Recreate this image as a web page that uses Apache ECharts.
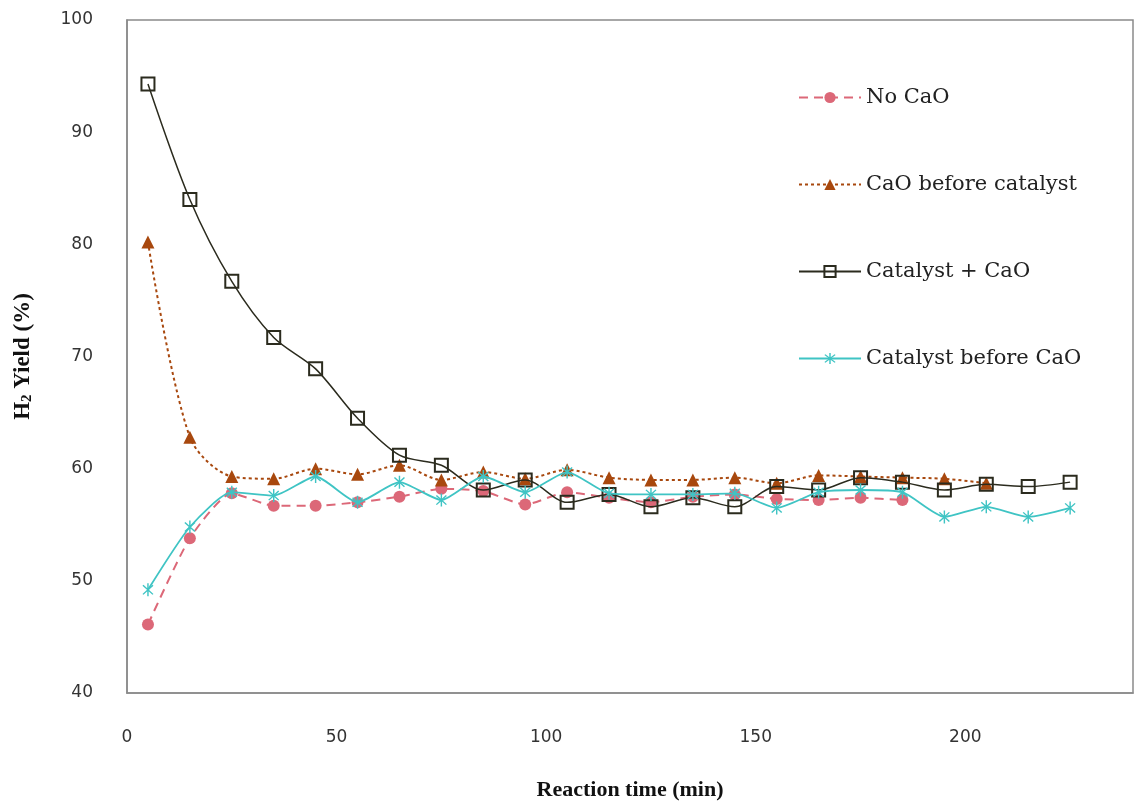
<!DOCTYPE html>
<html>
<head>
<meta charset="utf-8">
<script src="https://cdn.jsdelivr.net/npm/echarts@6/dist/echarts.min.js"></script>
<style>
html,body{margin:0;padding:0;background:#fff;}
#chart{width:1137px;height:807px;}
</style>
</head>
<body>
<div id="chart"></div>
<script>
// Reaction time (min)
const times = [5,15,25,35,45,55,65,75,85,95,105,115,125,135,145,155,165,175,185,195,205,215,225];
// H2 yield (%) per series
const noCaO = [46.1,53.8,57.8,56.7,56.7,57.0,57.5,58.2,58.0,56.8,57.9,57.4,57.0,57.5,57.7,57.3,57.2,57.4,57.2];
const caoBeforeCatalyst = [80.2,62.8,59.3,59.1,60.0,59.5,60.3,59.0,59.7,59.1,59.9,59.2,59.0,59.0,59.2,58.7,59.4,59.3,59.2,59.1,58.7];
const catalystPlusCaO = [94.3,84.0,76.7,71.7,68.9,64.5,61.2,60.3,58.1,59.0,57.0,57.7,56.6,57.4,56.6,58.4,58.1,59.2,58.8,58.1,58.6,58.4,58.8];
const catalystBeforeCaO = [49.2,54.8,57.9,57.6,59.3,57.0,58.8,57.2,59.3,57.9,59.7,57.8,57.7,57.7,57.8,56.5,57.9,58.1,57.9,55.7,56.6,55.7,56.5];
const seriesNames = ['No CaO','CaO before catalyst','Catalyst + CaO','Catalyst before CaO'];
const xTicks = {min:0, max:240, interval:50};
const yTicks = {min:40, max:100, interval:10};

function pairs(vals){ return vals.map((v,i)=>[times[i], v]); }

const starPath = 'path://M-1,-10L1,-10L1,10L-1,10Z M-6.3,-7.7L7.7,6.3L6.3,7.7L-7.7,-6.3Z M6.3,-7.7L7.7,-6.3L-6.3,7.7L-7.7,6.3Z';

const chart = echarts.init(document.getElementById('chart'));
chart.setOption({
  animation:false,
  backgroundColor:'#fff',
  grid:{left:127, top:20, right:4, bottom:114, show:true, borderColor:'#8a8a8a', borderWidth:1.5},
  legend:{
    orient:'vertical', left:793, top:82, itemWidth:62, itemHeight:14, itemGap:66,
    textStyle:{fontFamily:'DejaVu Serif', fontSize:21, color:'#222'},
    data:seriesNames
  },
  xAxis:{
    type:'value', min:xTicks.min, max:xTicks.max, interval:xTicks.interval,
    axisLine:{show:true, lineStyle:{color:'#8a8a8a', width:1.5}},
    axisTick:{show:false}, splitLine:{show:false},
    axisLabel:{fontFamily:'DejaVu Sans', fontSize:17, color:'#333', margin:36,
      formatter:v=> v>200 ? '' : String(v)},
    name:'Reaction time (min)', nameLocation:'middle', nameGap:86,
    nameTextStyle:{fontFamily:'Liberation Serif', fontWeight:'bold', fontSize:22, color:'#111'}
  },
  yAxis:{
    type:'value', min:yTicks.min, max:yTicks.max, interval:yTicks.interval,
    axisLine:{show:true, lineStyle:{color:'#8a8a8a', width:1.5}},
    axisTick:{show:false}, splitLine:{show:false},
    axisLabel:{fontFamily:'DejaVu Sans', fontSize:17, color:'#333', margin:34},
    name:'{a|H}{b|2}{a| Yield (%)}', nameLocation:'middle', nameGap:92,
    nameTextStyle:{rich:{
      a:{fontFamily:'Liberation Serif', fontWeight:'bold', fontSize:23, color:'#111'},
      b:{fontFamily:'Liberation Serif', fontWeight:'bold', fontSize:15, color:'#111', verticalAlign:'bottom', padding:[8,0,0,0]}
    }}
  },
  series:[
    {name:seriesNames[0], type:'line', data:pairs(noCaO), smooth:0.2,
     symbol:'circle', symbolSize:12, itemStyle:{color:'#DC6878'},
     lineStyle:{color:'#DC6878', width:2, type:[9,6]}, z:3},
    {name:seriesNames[1], type:'line', data:pairs(caoBeforeCatalyst), smooth:0.3,
     symbol:'triangle', symbolSize:13, itemStyle:{color:'#A8480E'},
     lineStyle:{color:'#A8480E', width:2, type:[3,3]}, z:4},
    {name:seriesNames[2], type:'line', data:pairs(catalystPlusCaO), smooth:0.3,
     symbol:'rect', symbolSize:13, itemStyle:{color:'rgba(255,255,255,0)', borderColor:'#2b2b1e', borderWidth:2},
     lineStyle:{color:'#2b2b1e', width:1.5}, z:5},
    {name:seriesNames[3], type:'line', data:pairs(catalystBeforeCaO), smooth:0.2,
     symbol:starPath, symbolSize:[11,13], itemStyle:{color:'#3FC4C4'},
     lineStyle:{color:'#3FC4C4', width:1.8}, z:6}
  ]
});
</script>
</body>
</html>
